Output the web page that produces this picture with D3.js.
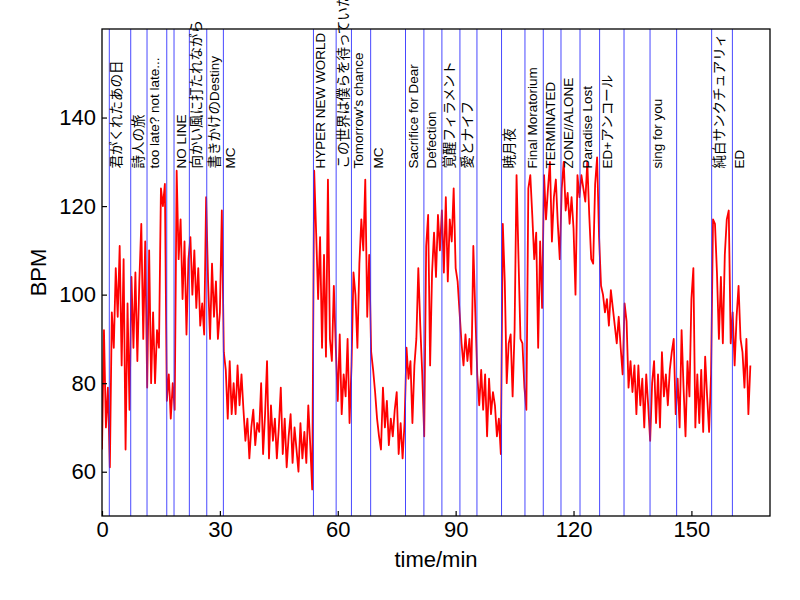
<!DOCTYPE html>
<html>
<head>
<meta charset="utf-8">
<script src="https://cdn.jsdelivr.net/npm/d3@7"></script>
<style>
  body { margin: 0; background: #fff; }
  text { font-family: "Liberation Sans", Arial, "Noto Sans CJK JP", sans-serif; }
</style>
</head>
<body>
<div id="chart"></div>
<script>
// heart rate samples, one every half minute
var sampleStep = 0.5;
var bpm = [
  65, 92, 70, 79, 61, 96, 88, 106, 95, 111,
  84, 108, 65, 98, 74, 104, 88, 105, 85, 103,
  116, 90, 112, 79, 110, 80, 96, 80, 92, 88,
  124, 120, 125, 76, 82, 72, 80, 74, 128, 108,
  117, 99, 112, 91, 108, 113, 100, 110, 97, 106,
  93, 98, 91, 122, 103, 90, 107, 95, 103, 90,
  96, 119, 87, 83, 72, 85, 73, 80, 73, 84,
  75, 82, 74, 67, 72, 63, 70, 74, 66, 71,
  69, 80, 64, 73, 85, 63, 75, 67, 72, 63,
  70, 79, 64, 72, 61, 68, 73, 62, 70, 65,
  60, 71, 63, 69, 62, 75, 66, 56, 128, 114,
  99, 113, 88, 109, 86, 126, 90, 85, 102, 88,
  76, 91, 73, 82, 77, 90, 71, 84, 105, 100,
  88, 107, 117, 110, 126, 95, 109, 87, 83, 78,
  72, 68, 65, 79, 70, 76, 66, 72, 68, 74,
  78, 64, 71, 63, 71, 88, 81, 85, 71, 84,
  90, 106, 93, 82, 68, 111, 118, 84, 105, 114,
  104, 118, 110, 119, 105, 122, 103, 117, 112, 124,
  106, 103, 96, 89, 84, 91, 85, 90, 82, 111,
  96, 82, 75, 83, 74, 82, 68, 81, 73, 78,
  75, 68, 72, 64, 116, 103, 80, 89, 91, 77,
  92, 127, 108, 90, 89, 79, 74, 124, 127, 118,
  108, 114, 88, 112, 97, 127, 117, 124, 130, 112,
  122, 126, 116, 108, 124, 130, 119, 123, 116, 122,
  115, 100, 127, 122, 127, 124, 121, 130, 118, 108,
  107, 125, 131, 113, 102, 100, 96, 99, 93, 101,
  97, 93, 89, 95, 88, 82, 98, 94, 79, 85,
  78, 84, 73, 84, 75, 81, 70, 82, 75, 67,
  80, 85, 71, 82, 70, 87, 77, 82, 75, 83,
  87, 90, 73, 81, 70, 92, 79, 68, 85, 77,
  99, 106, 70, 82, 71, 83, 69, 86, 77, 69,
  82, 117, 116, 105, 90, 104, 89, 109, 117, 119,
  89, 96, 84, 95, 102, 90, 87, 79, 90, 73,
  84
];

// song start times (min) and titles ("" = marker without a title)
var songStarts = [1.86, 7.31, 11.46, 16.48, 18.33, 22.23, 26.66, 30.89,
  53.81, 59.59, 63.48, 68.37, 77.24, 81.92, 86.50, 91.09, 95.42,
  101.68, 107.64, 112.30, 116.81, 121.65, 126.64, 132.85, 139.47,
  146.24, 155.15, 160.43];
var songNames = ["君がくれたあの日", "詩人の旅", "too late? not late...", "", "NO LINE",
  "向かい風に打たれながら", "書きかけのDestiny", "MC", "HYPER NEW WORLD",
  "この世界は僕らを待っていた", "Tomorrow's chance", "MC", "Sacrifice for Dear",
  "Defection", "覚醒フィラメント", "愛とナイフ", "", "暁月夜", "Final Moratorium",
  "TERMINATED", "ZONE//ALONE", "Paradise Lost", "ED+アンコール", "", "sing for you", "",
  "純白サンクチュアリィ", "ED"];

var xTicks = [0, 30, 60, 90, 120, 150];
var yTicks = [60, 80, 100, 120, 140];

var width = 800,
    height = 600;
var margin = {left: 102, right: 30, top: 29, bottom: 84};

var svg = d3.select("#chart")
  .append("svg")
    .attr("width", width)
    .attr("height", height);

var x = d3.scaleLinear().domain([0, 170]).range([margin.left, width - margin.right]);
var y = d3.scaleLinear().domain([50, 160]).range([height - margin.bottom, margin.top]);

svg.append("clipPath").attr("id", "plotclip")
  .append("rect")
    .attr("x", x(0)).attr("y", y(160))
    .attr("width", x(170) - x(0)).attr("height", y(50) - y(160));

// BPM line
var line = d3.line()
  .x(function(d, i) { return x(i * sampleStep); })
  .y(function(d) { return y(d); });

svg.append("path")
  .datum(bpm)
  .attr("clip-path", "url(#plotclip)")
  .attr("fill", "none")
  .attr("stroke", "red")
  .attr("stroke-width", 1.8)
  .attr("stroke-linejoin", "round")
  .attr("d", line);

// song markers
svg.append("g")
  .attr("clip-path", "url(#plotclip)")
  .selectAll("line")
  .data(songStarts)
  .enter().append("line")
    .attr("x1", function(d) { return x(d); })
    .attr("x2", function(d) { return x(d); })
    .attr("y1", y(50))
    .attr("y2", y(160))
    .attr("stroke", "#3333ff")
    .attr("stroke-width", 0.9);

svg.append("g")
  .selectAll("text")
  .data(songStarts)
  .enter().append("text")
    .attr("transform", function(d) { return "translate(" + (x(d) + 12) + "," + y(128.5) + ") rotate(-90)"; })
    .attr("font-size", "13.5px")
    .attr("fill", "black")
    .text(function(d, i) { return songNames[i]; });

// axes
var xAxis = d3.axisBottom(x).tickValues(xTicks).tickSizeInner(-5).tickSizeOuter(0).tickPadding(5);
var yAxis = d3.axisLeft(y).tickValues(yTicks).tickSizeInner(-5).tickSizeOuter(0).tickPadding(6);

var gx = svg.append("g")
  .attr("transform", "translate(0," + y(50) + ")")
  .call(xAxis);
var gy = svg.append("g")
  .attr("transform", "translate(" + x(0) + ",0)")
  .call(yAxis);

[gx, gy].forEach(function(g) {
  g.select(".domain").remove();
  g.selectAll(".tick line").attr("stroke", "black").attr("stroke-width", 1.2);
  g.selectAll(".tick text")
    .attr("font-size", "22px")
    .attr("font-family", "'Liberation Sans', Arial, sans-serif")
    .attr("fill", "black");
});

// frame
svg.append("rect")
  .attr("x", x(0)).attr("y", y(160))
  .attr("width", x(170) - x(0)).attr("height", y(50) - y(160))
  .attr("fill", "none")
  .attr("stroke", "black")
  .attr("stroke-width", 1.3);

svg.append("text")
  .attr("x", (x(0) + x(170)) / 2)
  .attr("y", 567)
  .attr("text-anchor", "middle")
  .attr("font-size", "22px")
  .text("time/min");

svg.append("text")
  .attr("transform", "translate(46," + y(105) + ") rotate(-90)")
  .attr("text-anchor", "middle")
  .attr("font-size", "22px")
  .text("BPM");
</script>
</body>
</html>
